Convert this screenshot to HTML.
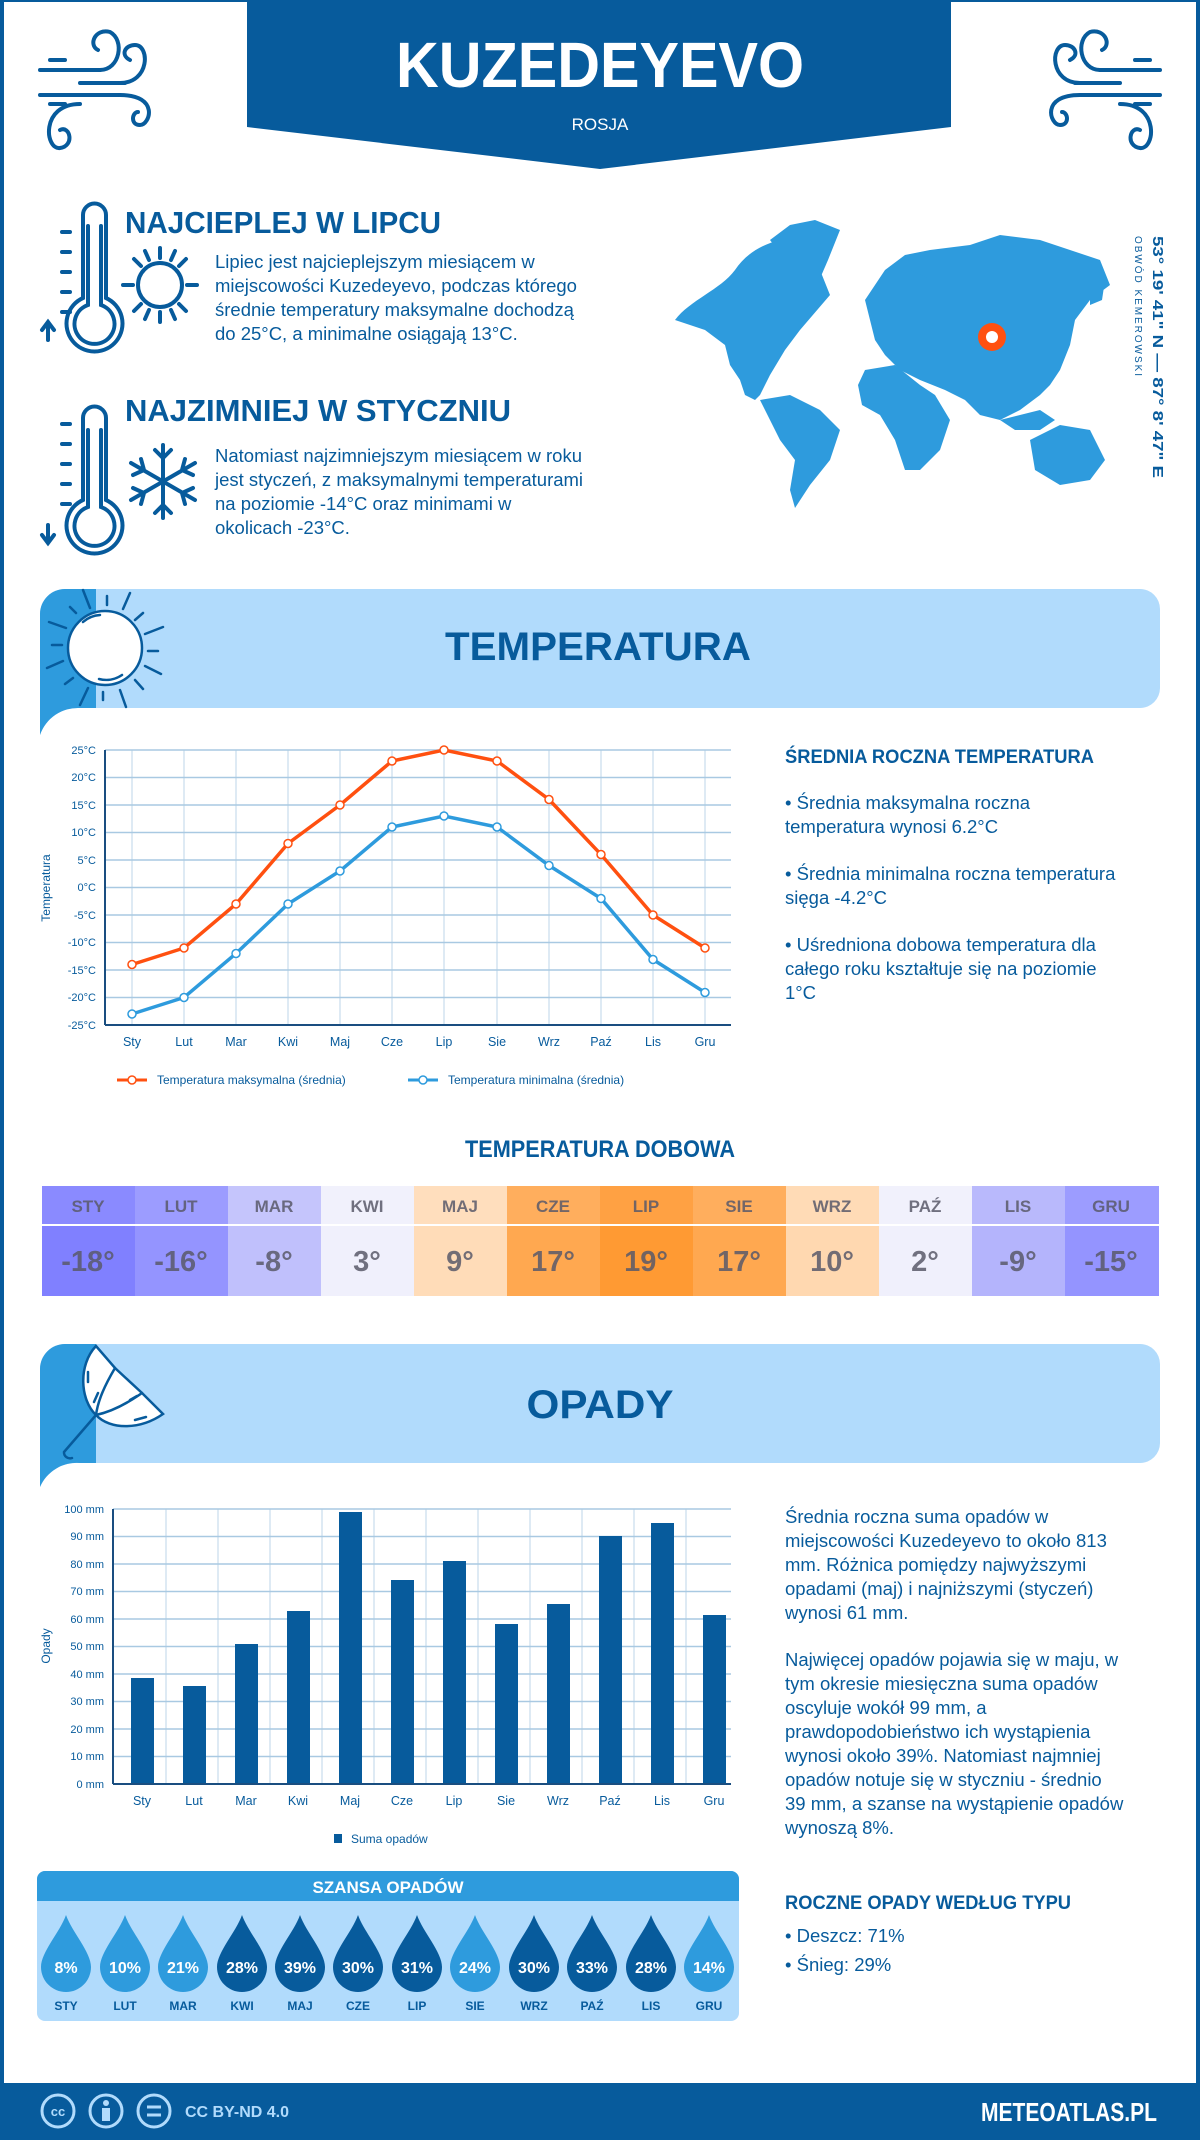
<!DOCTYPE html>
<html><head><meta charset="utf-8"><style>
html,body{margin:0;padding:0;background:#fff}
svg{display:block}
text{font-family:"Liberation Sans",sans-serif}
</style></head><body>
<svg width="1200" height="2140" viewBox="0 0 1200 2140" xmlns="http://www.w3.org/2000/svg">
<rect x="0" y="0" width="1200" height="2140" fill="#fff"/>
<rect x="2" y="0" width="1196" height="2140" fill="none" stroke="#075b9c" stroke-width="4"/>
<polygon points="247,0 951,0 951,127 600,169 247,127" fill="#075b9c"/>
<text x="600" y="87" text-anchor="middle" font-size="64" font-weight="bold" fill="#fff" textLength="408" lengthAdjust="spacingAndGlyphs">KUZEDEYEVO</text>
<text x="600" y="130" text-anchor="middle" font-size="17" fill="#fff">ROSJA</text>
<g fill="none" stroke="#075b9c" stroke-width="4" stroke-linecap="round">
<g id="wind">
<path d="M40,70 H100 M50,60 H65 M80,83 H125 M40,95 H120 M50,104 H65"/>
<path d="M100,70 C120,70 125,40 110,32 C95,28 88,45 98,50"/>
<path d="M120,83 C150,83 150,45 135,45 C125,45 120,55 130,60"/>
<path d="M120,95 C160,95 150,125 140,125 C130,125 132,112 138,112"/>
<path d="M80,104 C40,104 45,150 60,148 C75,146 70,125 60,130"/>
</g>
<use href="#wind" transform="translate(1200,0) scale(-1,1)"/>
</g>
<g fill="none" stroke="#075b9c" stroke-width="4" stroke-linecap="round">
<path d="M83,215 V298 A28,28 0 1 0 106,298 V215 A11.5,11.5 0 0 0 83,215 Z"/>
<path d="M88,226 V305 A20,20 0 1 0 101,305 V226"/>
<path d="M62,232 H70 M62,252 H70 M62,272 H70 M62,292 H70 M62,312 H70"/>
<path d="M48,340 V322 M42,330 L48,322 L54,330"/>
<circle cx="160" cy="285" r="22"/>
<path d="M160,248 V258 M160,312 V322 M123,285 H133 M187,285 H197 M134,259 L141,266 M179,304 L186,311 M186,259 L179,266 M141,304 L134,311 M145,251 L149,260 M171,310 L175,319 M175,251 L171,260 M149,310 L145,319"/>
</g>
<text x="125" y="233" font-size="31" font-weight="bold" fill="#075b9c" textLength="316" lengthAdjust="spacingAndGlyphs">NAJCIEPLEJ W LIPCU</text>
<g font-size="18.5" fill="#075b9c">
<text x="215" y="268">Lipiec jest najcieplejszym miesiącem w</text>
<text x="215" y="292">miejscowości Kuzedeyevo, podczas którego</text>
<text x="215" y="316">średnie temperatury maksymalne dochodzą</text>
<text x="215" y="340">do 25°C, a minimalne osiągają 13°C.</text>
</g>
<g fill="none" stroke="#075b9c" stroke-width="4" stroke-linecap="round">
<path d="M83,418 V500 A28,28 0 1 0 106,500 V418 A11.5,11.5 0 0 0 83,418 Z"/>
<path d="M88,430 V507 A20,20 0 1 0 101,507 V430"/>
<path d="M62,424 H70 M62,444 H70 M62,464 H70 M62,484 H70 M62,504 H70"/>
<path d="M48,525 V543 M42,535 L48,543 L54,535"/>
<path d="M163,445 V518 M131,463 L195,500 M131,500 L195,463 M155,450 L163,458 L171,450 M155,513 L163,505 L171,513 M133,475 L144,470 L141,459 M193,488 L182,493 L185,504 M133,488 L144,493 L141,504 M193,475 L182,470 L185,459"/>
</g>
<text x="125" y="421" font-size="31" font-weight="bold" fill="#075b9c" textLength="386" lengthAdjust="spacingAndGlyphs">NAJZIMNIEJ W STYCZNIU</text>
<g font-size="18.5" fill="#075b9c">
<text x="215" y="462">Natomiast najzimniejszym miesiącem w roku</text>
<text x="215" y="486">jest styczeń, z maksymalnymi temperaturami</text>
<text x="215" y="510">na poziomie -14°C oraz minimami w</text>
<text x="215" y="534">okolicach -23°C.</text>
</g>
<g fill="#2e9bdd">
<path d="M675,320 C690,300 720,290 735,270 C745,255 760,245 780,240 L810,250 L820,270 L830,295 L800,330 L785,350 L770,375 L760,395 L755,400 L745,395 L740,380 L730,365 L725,345 L705,330 Z"/>
<path d="M770,240 L790,225 L815,220 L840,230 L828,260 L815,290 L800,275 L785,260 Z"/>
<path d="M760,400 L790,395 L820,410 L840,430 L830,460 L810,485 L795,508 L790,490 L795,460 L780,440 L770,420 Z"/>
<path d="M865,300 L885,270 L905,255 L930,250 L970,245 L1000,235 L1040,240 L1070,250 L1100,260 L1110,285 L1090,300 L1075,320 L1070,345 L1060,370 L1050,385 L1040,395 L1020,410 L1000,420 L980,415 L965,400 L945,390 L920,380 L900,370 L885,355 L875,340 Z"/>
<path d="M865,370 L895,365 L920,385 L935,395 L950,420 L940,450 L920,470 L905,470 L895,440 L880,415 L862,405 L858,385 Z"/>
<path d="M1030,440 L1060,425 L1090,430 L1105,460 L1090,480 L1060,485 L1035,470 Z"/>
<path d="M1000,420 L1020,415 L1040,410 L1055,420 L1040,430 L1015,430 Z"/>
<path d="M1090,275 L1105,280 L1102,300 L1090,305 Z"/>
<path d="M910,270 L925,258 L935,265 L928,278 Z"/>
</g>
<circle cx="992" cy="337" r="14" fill="#ff5010"/>
<circle cx="992" cy="337" r="6" fill="#fff"/>
<text transform="translate(1153,236) rotate(90)" font-size="15" font-weight="bold" fill="#075b9c" textLength="242" lengthAdjust="spacingAndGlyphs">53° 19' 41" N — 87° 8' 47" E</text>
<text transform="translate(1135,236) rotate(90)" font-size="10" fill="#075b9c" textLength="140">OBWÓD KEMEROWSKI</text>
<path d="M40,735 V614 A25,25 0 0 1 65,589 H1140 A20,20 0 0 1 1160,609 V688 A20,20 0 0 1 1140,708 H80 A40,40 0 0 0 40,735 Z" fill="#b1dbfc"/>
<path d="M40,735 V614 A25,25 0 0 1 65,589 H96 V708 H80 A40,40 0 0 0 40,735 Z" fill="#2e9bdd"/>
<g stroke="#075b9c" stroke-width="2.5" stroke-linecap="round" fill="none">
<circle cx="105" cy="648" r="37" fill="#fff"/>
<path d="M83,622 A28,28 0 0 1 100,615 M99,679 A28,28 0 0 0 122,675"/>
<path d="M83,590 L90,608 M107,596 V605 M130,593 L123,609 M143,613 L135,620 M145,634 L163,627 M148,651 H158 M145,666 L161,674 M135,680 L143,689 M120,690 L126,707 M103,692 V700 M88,688 L80,705 M73,678 L65,684 M63,661 L47,668 M62,645 H52 M66,628 L49,622 M76,613 L70,607"/>
</g>
<text x="598" y="660" text-anchor="middle" font-size="40" font-weight="bold" fill="#075b9c" textLength="306" lengthAdjust="spacingAndGlyphs">TEMPERATURA</text>
<g stroke="#bcd6ea" stroke-width="1">
<path d="M132,750 V1025 M184,750 V1025 M236,750 V1025 M288,750 V1025 M340,750 V1025 M392,750 V1025 M444,750 V1025 M497,750 V1025 M549,750 V1025 M601,750 V1025 M653,750 V1025 M705,750 V1025"/>
</g>
<g stroke="#a9c9e2" stroke-width="1.5">
<path d="M105,750 H731 M105,777.5 H731 M105,805 H731 M105,832.5 H731 M105,860 H731 M105,887.5 H731 M105,915 H731 M105,942.5 H731 M105,970 H731 M105,997.5 H731"/>
</g>
<path d="M105,1025 H731 M105,750 V1025" stroke="#1a4e80" stroke-width="2" fill="none"/>
<g font-size="11" fill="#075b9c" text-anchor="end">
<text x="96" y="754">25°C</text><text x="96" y="781">20°C</text><text x="96" y="809">15°C</text><text x="96" y="836">10°C</text><text x="96" y="864">5°C</text><text x="96" y="891">0°C</text><text x="96" y="919">-5°C</text><text x="96" y="946">-10°C</text><text x="96" y="974">-15°C</text><text x="96" y="1001">-20°C</text><text x="96" y="1029">-25°C</text>
</g>
<text transform="translate(50,888) rotate(-90)" text-anchor="middle" font-size="12" fill="#075b9c">Temperatura</text>
<g font-size="12.5" fill="#075b9c" text-anchor="middle">
<text x="132" y="1046">Sty</text><text x="184" y="1046">Lut</text><text x="236" y="1046">Mar</text><text x="288" y="1046">Kwi</text><text x="340" y="1046">Maj</text><text x="392" y="1046">Cze</text><text x="444" y="1046">Lip</text><text x="497" y="1046">Sie</text><text x="549" y="1046">Wrz</text><text x="601" y="1046">Paź</text><text x="653" y="1046">Lis</text><text x="705" y="1046">Gru</text>
</g>
<polyline fill="none" stroke="#ff5010" stroke-width="3.5" points="132,964.5 184,948 236,904 288,843.5 340,805 392,761 444,750 497,761 549,799.5 601,854.5 653,915 705,948"/>
<polyline fill="none" stroke="#2e9bdd" stroke-width="3.5" points="132,1014 184,997.5 236,953.5 288,904 340,871 392,827 444,816 497,827 549,865.5 601,898.5 653,959.5 705,992.5"/>
<g fill="#fff" stroke="#ff5010" stroke-width="1.5">
<circle cx="132" cy="964.5" r="4"/><circle cx="184" cy="948" r="4"/><circle cx="236" cy="904" r="4"/><circle cx="288" cy="843.5" r="4"/><circle cx="340" cy="805" r="4"/><circle cx="392" cy="761" r="4"/><circle cx="444" cy="750" r="4"/><circle cx="497" cy="761" r="4"/><circle cx="549" cy="799.5" r="4"/><circle cx="601" cy="854.5" r="4"/><circle cx="653" cy="915" r="4"/><circle cx="705" cy="948" r="4"/>
</g>
<g fill="#fff" stroke="#2e9bdd" stroke-width="1.5">
<circle cx="132" cy="1014" r="4"/><circle cx="184" cy="997.5" r="4"/><circle cx="236" cy="953.5" r="4"/><circle cx="288" cy="904" r="4"/><circle cx="340" cy="871" r="4"/><circle cx="392" cy="827" r="4"/><circle cx="444" cy="816" r="4"/><circle cx="497" cy="827" r="4"/><circle cx="549" cy="865.5" r="4"/><circle cx="601" cy="898.5" r="4"/><circle cx="653" cy="959.5" r="4"/><circle cx="705" cy="992.5" r="4"/>
</g>
<path d="M117,1080 H147" stroke="#ff5010" stroke-width="3"/><circle cx="132" cy="1080" r="4" fill="#fff" stroke="#ff5010" stroke-width="1.5"/>
<text x="157" y="1084" font-size="12" fill="#075b9c">Temperatura maksymalna (średnia)</text>
<path d="M408,1080 H438" stroke="#2e9bdd" stroke-width="3"/><circle cx="423" cy="1080" r="4" fill="#fff" stroke="#2e9bdd" stroke-width="1.5"/>
<text x="448" y="1084" font-size="12" fill="#075b9c">Temperatura minimalna (średnia)</text>
<text x="785" y="763" font-size="19" font-weight="bold" fill="#075b9c" textLength="309" lengthAdjust="spacingAndGlyphs">ŚREDNIA ROCZNA TEMPERATURA</text>
<g font-size="18.5" fill="#075b9c">
<text x="785" y="809">• Średnia maksymalna roczna</text>
<text x="785" y="833">temperatura wynosi 6.2°C</text>
<text x="785" y="880">• Średnia minimalna roczna temperatura</text>
<text x="785" y="904">sięga -4.2°C</text>
<text x="785" y="951">• Uśredniona dobowa temperatura dla</text>
<text x="785" y="975">całego roku kształtuje się na poziomie</text>
<text x="785" y="999">1°C</text>
</g>
<text x="600" y="1157" text-anchor="middle" font-size="24" font-weight="bold" fill="#075b9c" textLength="270" lengthAdjust="spacingAndGlyphs">TEMPERATURA DOBOWA</text>
<g>
<rect x="42" y="1186" width="94" height="110" fill="#8080ff"/>
<rect x="135" y="1186" width="94" height="110" fill="#9494ff"/>
<rect x="228" y="1186" width="94" height="110" fill="#c0c0fc"/>
<rect x="321" y="1186" width="94" height="110" fill="#f0f0fc"/>
<rect x="414" y="1186" width="94" height="110" fill="#ffdcb8"/>
<rect x="507" y="1186" width="94" height="110" fill="#ffa850"/>
<rect x="600" y="1186" width="94" height="110" fill="#ff9a33"/>
<rect x="693" y="1186" width="94" height="110" fill="#ffa850"/>
<rect x="786" y="1186" width="94" height="110" fill="#ffd8b0"/>
<rect x="879" y="1186" width="94" height="110" fill="#f0f0fc"/>
<rect x="972" y="1186" width="94" height="110" fill="#b4b4fc"/>
<rect x="1065" y="1186" width="94" height="110" fill="#9494ff"/>
<rect x="42" y="1186" width="1117" height="39" fill="#fff" opacity="0.08"/>
<path d="M42,1225 H1159" stroke="#fff" stroke-width="2"/>
</g>
<g font-size="17" font-weight="bold" fill="#5a5a6a" text-anchor="middle" opacity="0.85">
<text x="88" y="1212">STY</text><text x="181" y="1212">LUT</text><text x="274" y="1212">MAR</text><text x="367" y="1212">KWI</text><text x="460" y="1212">MAJ</text><text x="553" y="1212">CZE</text><text x="646" y="1212">LIP</text><text x="739" y="1212">SIE</text><text x="832" y="1212">WRZ</text><text x="925" y="1212">PAŹ</text><text x="1018" y="1212">LIS</text><text x="1111" y="1212">GRU</text>
</g>
<g font-size="29" font-weight="bold" fill="#5a5a6a" text-anchor="middle" opacity="0.85">
<text x="88" y="1271">-18°</text><text x="181" y="1271">-16°</text><text x="274" y="1271">-8°</text><text x="367" y="1271">3°</text><text x="460" y="1271">9°</text><text x="553" y="1271">17°</text><text x="646" y="1271">19°</text><text x="739" y="1271">17°</text><text x="832" y="1271">10°</text><text x="925" y="1271">2°</text><text x="1018" y="1271">-9°</text><text x="1111" y="1271">-15°</text>
</g>
<path d="M40,1487 V1369 A25,25 0 0 1 65,1344 H1140 A20,20 0 0 1 1160,1364 V1443 A20,20 0 0 1 1140,1463 H80 A40,40 0 0 0 40,1487 Z" fill="#b1dbfc"/>
<path d="M40,1487 V1369 A25,25 0 0 1 65,1344 H96 V1463 H80 A40,40 0 0 0 40,1487 Z" fill="#2e9bdd"/>
<g stroke="#075b9c" stroke-width="2.5" fill="none" stroke-linecap="round">
<path d="M96,1346 C78,1365 80,1400 96,1415 C110,1430 140,1430 163,1414 L142,1393 L115,1368 Z" fill="#fff"/>
<path d="M96,1415 L64,1452 A6,6 0 0 0 72,1458"/>
<path d="M115,1368 C105,1385 98,1400 96,1415 M142,1393 C125,1405 110,1412 96,1415"/>
<path d="M88,1372 V1382 M98,1393 L94,1402 M130,1400 L137,1396 M135,1420 L146,1417"/>
</g>
<text x="600" y="1418" text-anchor="middle" font-size="40" font-weight="bold" fill="#075b9c" textLength="147" lengthAdjust="spacingAndGlyphs">OPADY</text>
<g stroke="#bcd6ea" stroke-width="1">
<path d="M166,1509 V1784 M218,1509 V1784 M270,1509 V1784 M322,1509 V1784 M374,1509 V1784 M426,1509 V1784 M478,1509 V1784 M530,1509 V1784 M582,1509 V1784 M634,1509 V1784 M686,1509 V1784"/>
</g>
<g stroke="#a9c9e2" stroke-width="1.5">
<path d="M113,1509 H731 M113,1536.5 H731 M113,1564 H731 M113,1591.5 H731 M113,1619 H731 M113,1646.5 H731 M113,1674 H731 M113,1701.5 H731 M113,1729 H731 M113,1756.5 H731"/>
</g>
<g fill="#075b9c">
<rect x="131" y="1678" width="23" height="106"/>
<rect x="183" y="1686" width="23" height="98"/>
<rect x="235" y="1644" width="23" height="140"/>
<rect x="287" y="1611" width="23" height="173"/>
<rect x="339" y="1512" width="23" height="272"/>
<rect x="391" y="1580" width="23" height="204"/>
<rect x="443" y="1561" width="23" height="223"/>
<rect x="495" y="1624" width="23" height="160"/>
<rect x="547" y="1604" width="23" height="180"/>
<rect x="599" y="1536" width="23" height="248"/>
<rect x="651" y="1523" width="23" height="261"/>
<rect x="703" y="1615" width="23" height="169"/>
</g>
<path d="M113,1784 H731 M113,1509 V1784" stroke="#1a4e80" stroke-width="2" fill="none"/>
<g font-size="11" fill="#075b9c" text-anchor="end">
<text x="104" y="1513">100 mm</text><text x="104" y="1540">90 mm</text><text x="104" y="1568">80 mm</text><text x="104" y="1595">70 mm</text><text x="104" y="1623">60 mm</text><text x="104" y="1650">50 mm</text><text x="104" y="1678">40 mm</text><text x="104" y="1705">30 mm</text><text x="104" y="1733">20 mm</text><text x="104" y="1760">10 mm</text><text x="104" y="1788">0 mm</text>
</g>
<text transform="translate(50,1646) rotate(-90)" text-anchor="middle" font-size="12" fill="#075b9c">Opady</text>
<g font-size="12.5" fill="#075b9c" text-anchor="middle">
<text x="142" y="1805">Sty</text><text x="194" y="1805">Lut</text><text x="246" y="1805">Mar</text><text x="298" y="1805">Kwi</text><text x="350" y="1805">Maj</text><text x="402" y="1805">Cze</text><text x="454" y="1805">Lip</text><text x="506" y="1805">Sie</text><text x="558" y="1805">Wrz</text><text x="610" y="1805">Paź</text><text x="662" y="1805">Lis</text><text x="714" y="1805">Gru</text>
</g>
<rect x="334" y="1834" width="8" height="9" fill="#075b9c"/>
<text x="351" y="1843" font-size="12" fill="#075b9c">Suma opadów</text>
<g font-size="18.5" fill="#075b9c">
<text x="785" y="1523">Średnia roczna suma opadów w</text>
<text x="785" y="1547">miejscowości Kuzedeyevo to około 813</text>
<text x="785" y="1571">mm. Różnica pomiędzy najwyższymi</text>
<text x="785" y="1595">opadami (maj) i najniższymi (styczeń)</text>
<text x="785" y="1619">wynosi 61 mm.</text>
<text x="785" y="1666">Najwięcej opadów pojawia się w maju, w</text>
<text x="785" y="1690">tym okresie miesięczna suma opadów</text>
<text x="785" y="1714">oscyluje wokół 99 mm, a</text>
<text x="785" y="1738">prawdopodobieństwo ich wystąpienia</text>
<text x="785" y="1762">wynosi około 39%. Natomiast najmniej</text>
<text x="785" y="1786">opadów notuje się w styczniu - średnio</text>
<text x="785" y="1810">39 mm, a szanse na wystąpienie opadów</text>
<text x="785" y="1834">wynoszą 8%.</text>
</g>
<text x="785" y="1909" font-size="19" font-weight="bold" fill="#075b9c" textLength="286" lengthAdjust="spacingAndGlyphs">ROCZNE OPADY WEDŁUG TYPU</text>
<g font-size="18.5" fill="#075b9c">
<text x="785" y="1942">• Deszcz: 71%</text>
<text x="785" y="1971">• Śnieg: 29%</text>
</g>
<rect x="37" y="1871" width="702" height="150" rx="8" fill="#b1dbfc"/>
<path d="M37,1901 V1879 A8,8 0 0 1 45,1871 H731 A8,8 0 0 1 739,1879 V1901 Z" fill="#2e9bdd"/>
<text x="388" y="1893" text-anchor="middle" font-size="17" font-weight="bold" fill="#fff">SZANSA OPADÓW</text>
<defs><path id="drop" d="M0,-52 C6,-35 25,-15 25,0 A25,25 0 0 1 -25,0 C-25,-15 -6,-35 0,-52 Z"/></defs>
<g>
<use href="#drop" x="66" y="1967" fill="#2e9bdd"/>
<use href="#drop" x="125" y="1967" fill="#2e9bdd"/>
<use href="#drop" x="183" y="1967" fill="#2e9bdd"/>
<use href="#drop" x="242" y="1967" fill="#075b9c"/>
<use href="#drop" x="300" y="1967" fill="#075b9c"/>
<use href="#drop" x="358" y="1967" fill="#075b9c"/>
<use href="#drop" x="417" y="1967" fill="#075b9c"/>
<use href="#drop" x="475" y="1967" fill="#2e9bdd"/>
<use href="#drop" x="534" y="1967" fill="#075b9c"/>
<use href="#drop" x="592" y="1967" fill="#075b9c"/>
<use href="#drop" x="651" y="1967" fill="#075b9c"/>
<use href="#drop" x="709" y="1967" fill="#2e9bdd"/>
</g>
<g font-size="16" font-weight="bold" fill="#fff" text-anchor="middle">
<text x="66" y="1973">8%</text><text x="125" y="1973">10%</text><text x="183" y="1973">21%</text><text x="242" y="1973">28%</text><text x="300" y="1973">39%</text><text x="358" y="1973">30%</text><text x="417" y="1973">31%</text><text x="475" y="1973">24%</text><text x="534" y="1973">30%</text><text x="592" y="1973">33%</text><text x="651" y="1973">28%</text><text x="709" y="1973">14%</text>
</g>
<g font-size="12" font-weight="bold" fill="#075b9c" text-anchor="middle">
<text x="66" y="2010">STY</text><text x="125" y="2010">LUT</text><text x="183" y="2010">MAR</text><text x="242" y="2010">KWI</text><text x="300" y="2010">MAJ</text><text x="358" y="2010">CZE</text><text x="417" y="2010">LIP</text><text x="475" y="2010">SIE</text><text x="534" y="2010">WRZ</text><text x="592" y="2010">PAŹ</text><text x="651" y="2010">LIS</text><text x="709" y="2010">GRU</text>
</g>
<rect x="0" y="2083" width="1200" height="57" fill="#075b9c"/>
<g fill="none" stroke="#b1dbfc" stroke-width="3">
<circle cx="58" cy="2111" r="16"/><circle cx="106" cy="2111" r="16"/><circle cx="154" cy="2111" r="16"/>
</g>
<text x="58" y="2116" text-anchor="middle" font-size="13" font-weight="bold" fill="#b1dbfc">cc</text>
<circle cx="106" cy="2103" r="3" fill="#b1dbfc"/><rect x="102" y="2108" width="8" height="13" fill="#b1dbfc"/>
<path d="M147,2107 H161 M147,2115 H161" stroke="#b1dbfc" stroke-width="3"/>
<text x="185" y="2117" font-size="16" font-weight="bold" fill="#b1dbfc">CC BY-ND 4.0</text>
<text x="1157" y="2121" text-anchor="end" font-size="26" font-weight="bold" fill="#fff" textLength="176" lengthAdjust="spacingAndGlyphs">METEOATLAS.PL</text>
</svg>
</body></html>
